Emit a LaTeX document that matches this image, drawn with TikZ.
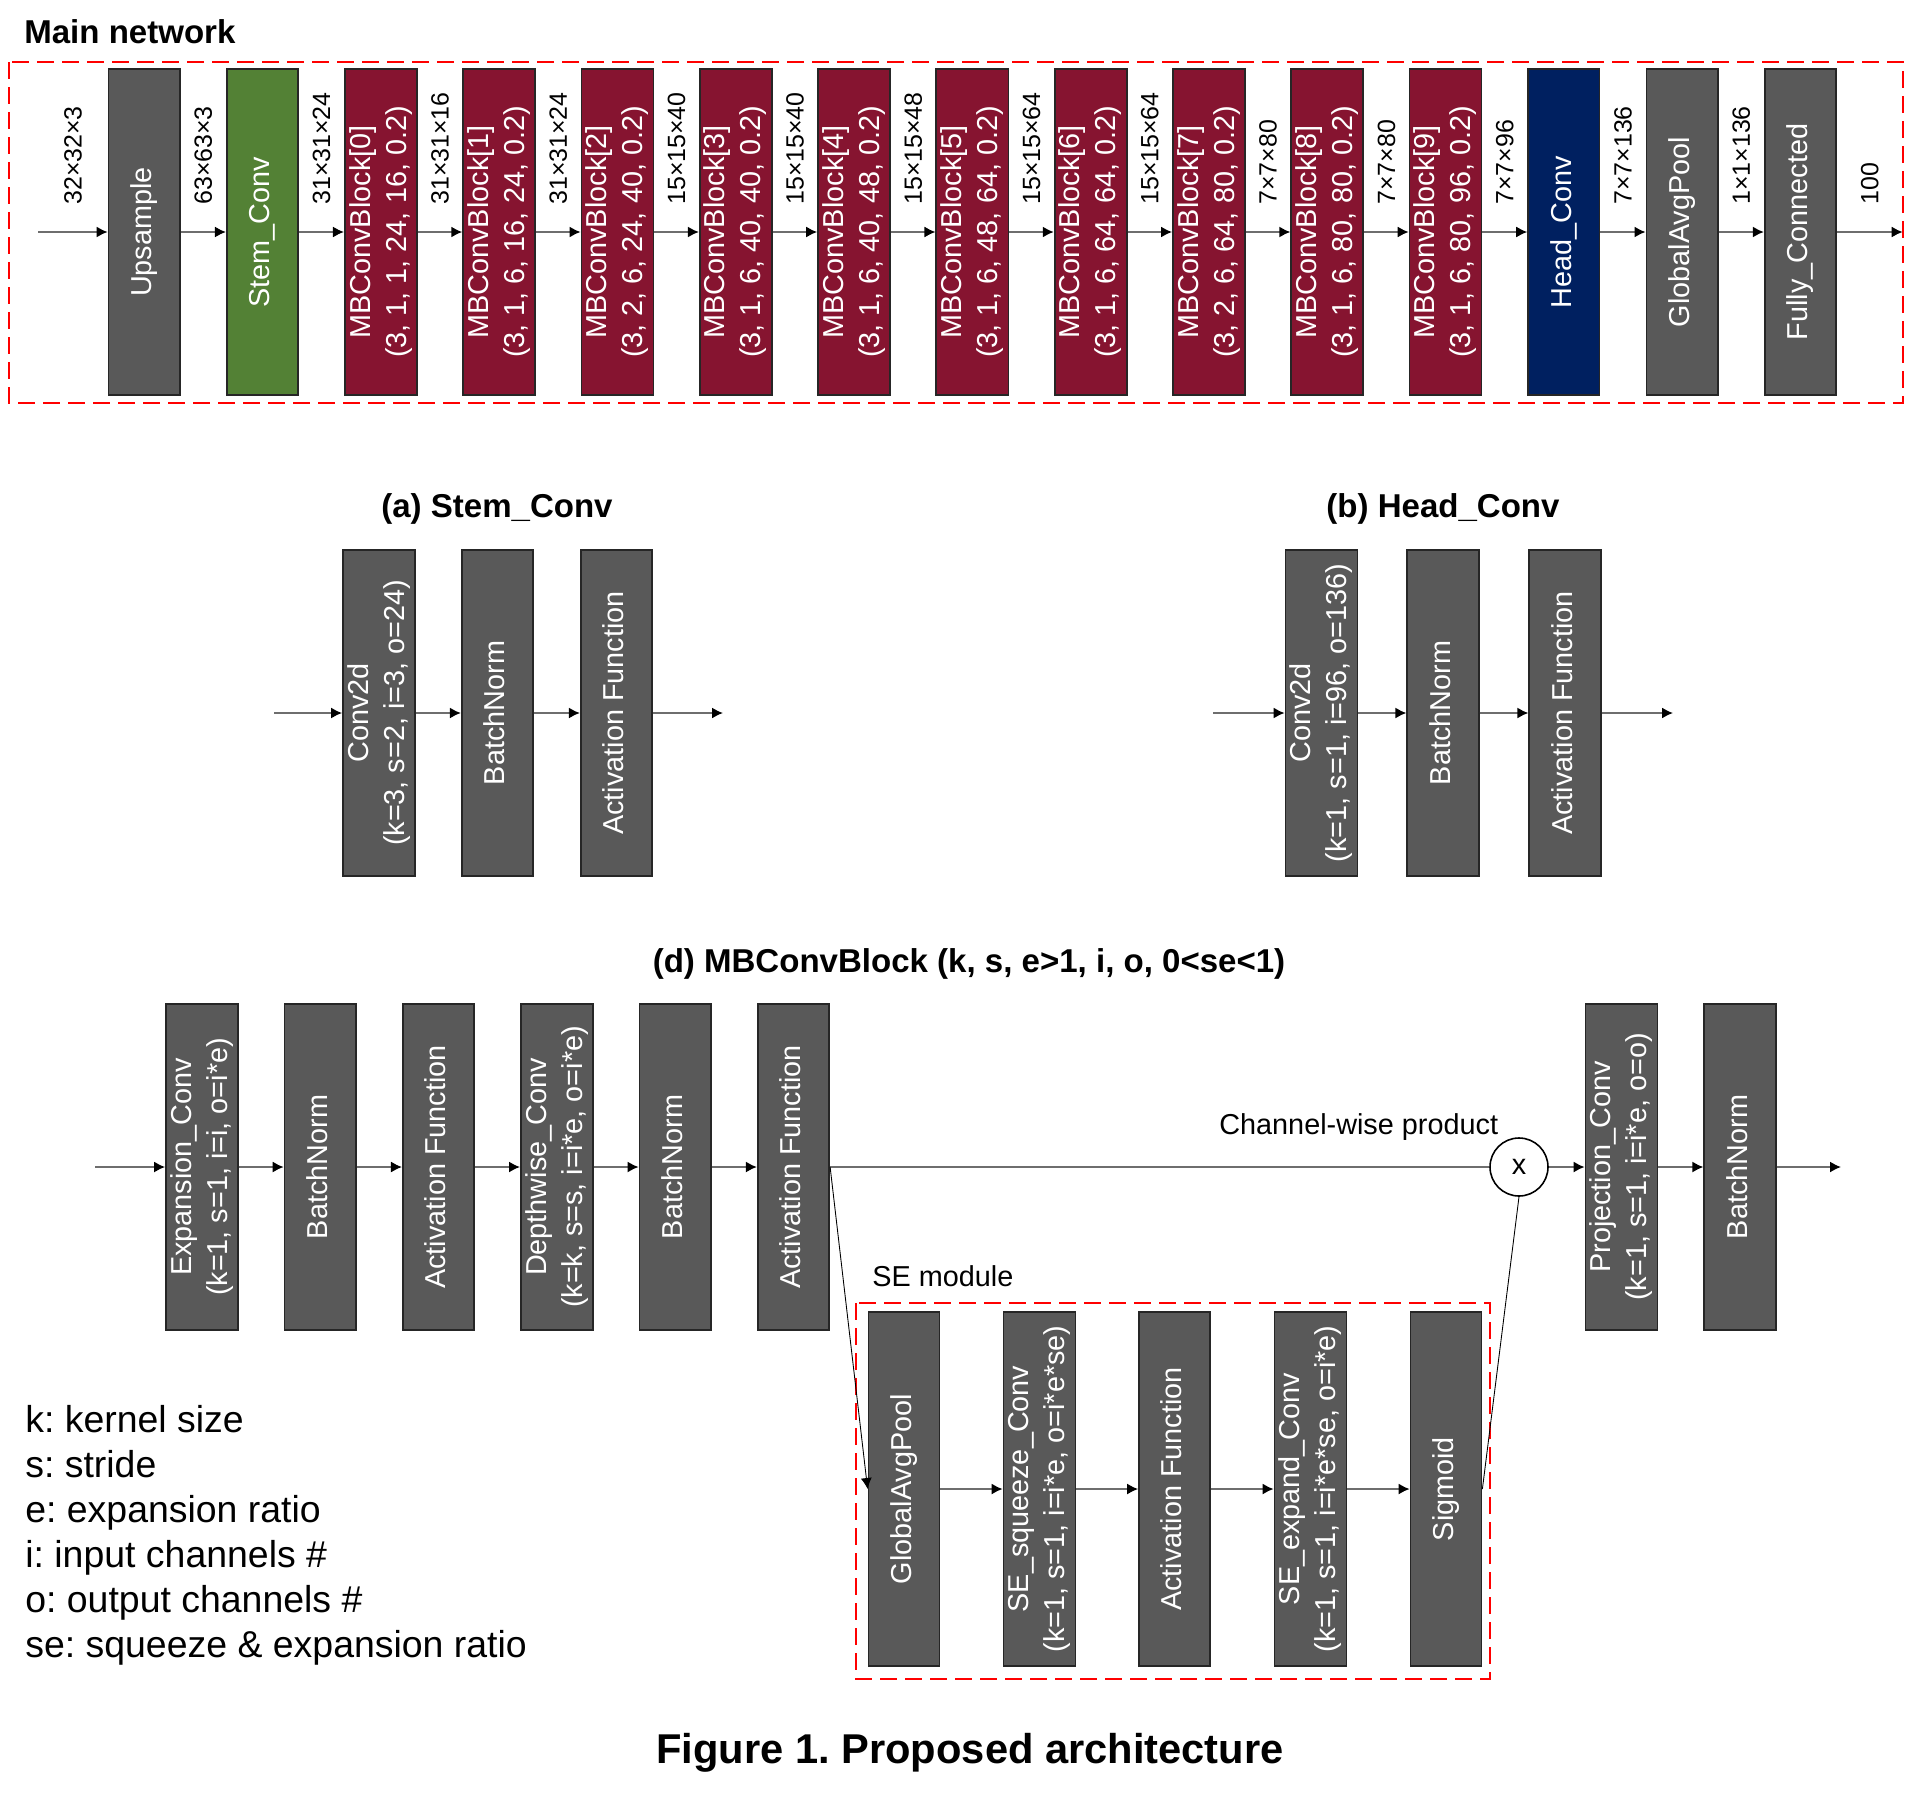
\documentclass[tikz,border=0pt]{standalone}
\usepackage{fontspec}
\setmainfont{Liberation Sans}
\usepackage{graphicx}
\usepackage{tikz}
\usetikzlibrary{arrows.meta,calc,positioning}
\frenchspacing
\definecolor{bgray}{RGB}{89,89,89}
\definecolor{bgreen}{RGB}{83,129,53}
\definecolor{bred}{RGB}{134,20,48}
\definecolor{bnavy}{RGB}{0,32,96}
\definecolor{dred}{RGB}{255,0,0}
\definecolor{lgray}{RGB}{110,110,110}
\newcommand{\blkfont}{\fontsize{16.4}{20.5}\selectfont}
\newcommand{\dimfont}{\fontsize{14.2}{17}\selectfont}
\newcommand{\headfont}{\fontsize{18.8}{22}\selectfont\bfseries}
\newcommand{\keyfont}{\fontsize{21.3}{25.6}\selectfont}
\newcommand{\figfont}{\fontsize{23.7}{28}\selectfont\bfseries}
\newcommand{\vlbl}[1]{\rotatebox{90}{\begin{tabular}{@{}c@{}}#1\end{tabular}}}

\begin{document}
\begin{tikzpicture}[x=0.2mm,y=-0.2mm,>={Latex[length=2.2mm,width=2.2mm]},
  blk/.style={draw=black!85,line width=1pt,fill=bgray,text=white,font=\blkfont,
    minimum width=14.3mm,minimum height=65.2mm,inner sep=0pt},
  seblk/.style={blk,minimum width=14.2mm,minimum height=70.8mm},
  conn/.style={draw=lgray,line width=0.9pt,-{Latex[length=2.2mm,width=2.2mm,color=black]}},
  slim/.style={draw=black,line width=0.5pt},
  grp/.style={draw=dred,line width=1.4pt,dash pattern=on 3.4mm off 1.6mm},
  dimlbl/.style={rotate=90,anchor=west,inner sep=0pt,font=\dimfont},
  ttl/.style={anchor=base,inner sep=0pt,font=\headfont},
  txt/.style={anchor=base west,inner sep=0pt,font=\blkfont}]

  \useasboundingbox (0,0) rectangle (1916,1799);

  % main network
  \node[ttl,anchor=base west] (mtitle) at (24,43) {Main network};
  \draw[grp] (9,62) rectangle (1903,403);
  \node[blk] (m0) at (144.25,232) {\vlbl{Upsample}};
  \node[blk,fill=bgreen] (m1) at (262.55,232) {\vlbl{Stem\_Conv}};
  \foreach \k/\p [count=\i from 2] in {0/{3, 1, 1, 24, 16, 0.2}, 1/{3, 1, 6, 16, 24, 0.2},
      2/{3, 2, 6, 24, 40, 0.2}, 3/{3, 1, 6, 40, 40, 0.2}, 4/{3, 1, 6, 40, 48, 0.2},
      5/{3, 1, 6, 48, 64, 0.2}, 6/{3, 1, 6, 64, 64, 0.2}, 7/{3, 2, 6, 64, 80, 0.2},
      8/{3, 1, 6, 80, 80, 0.2}, 9/{3, 1, 6, 80, 96, 0.2}}
    \node[blk,fill=bred] (m\i) at ({144.25+118.3*\i},232) {\vlbl{MBConvBlock[\k]\\(\p)}};
  \node[blk,fill=bnavy] (m12) at ({144.25+118.3*12},232) {\vlbl{Head\_Conv}};
  \node[blk] (m13) at ({144.25+118.3*13},232) {\vlbl{GlobalAvgPool}};
  \node[blk] (m14) at ({144.25+118.3*14},232) {\vlbl{Fully\_Connected}};
  \node[inner sep=0pt,minimum size=0pt] (m-1) at (38,232) {};
  \node[inner sep=0pt,minimum size=0pt] (m15) at (1903,232) {};
  \foreach \d [count=\j from 0] in {32×32×3, 63×63×3, 31×31×24, 31×31×16, 31×31×24,
      15×15×40, 15×15×40, 15×15×48, 15×15×64, 15×15×64, 7×7×80, 7×7×80, 7×7×96,
      7×7×136, 1×1×136, 100} {
    \pgfmathtruncatemacro{\p}{\j-1}
    \draw[conn] (m\p.east) -- (m\j.west);
    \node[dimlbl] (sz\j) at ($(m\p.east)!.5!(m\j.west)+(0,-27)$) {\d};
  }

  % (a) stem
  \node[ttl] (atitle) at (497,517) {(a) Stem\_Conv};
  \node[blk] (a1) at (379,713) {\vlbl{Conv2d\\(k=3, s=2, i=3, o=24)}};
  \node[blk] (a2) at (497.5,713) {\vlbl{BatchNorm}};
  \node[blk] (a3) at (616.5,713) {\vlbl{Activation Function}};
  \coordinate (a0) at (274,713);
  \coordinate (a4) at (723,713);
  \foreach \p/\q in {a0/a1,a1/a2,a2/a3,a3/a4}
    \draw[conn] (\p) -- (\q);

  % (b) head
  \node[ttl] (btitle) at (1443,517) {(b) Head\_Conv};
  \node[blk] (b1) at (1321.5,713) {\vlbl{Conv2d\\(k=1, s=1, i=96, o=136)}};
  \node[blk] (b2) at (1443,713) {\vlbl{BatchNorm}};
  \node[blk] (b3) at (1565,713) {\vlbl{Activation Function}};
  \coordinate (b0) at (1213,713);
  \coordinate (b4) at (1673,713);
  \foreach \p/\q in {b0/b1,b1/b2,b2/b3,b3/b4}
    \draw[conn] (\p) -- (\q);

  % (d) mbconv block
  \node[ttl] (dtitle) at (969,972) {(d) MBConvBlock (k, s, e>1, i, o, 0<se<1)};
  \node[blk] (d1) at (202,1167) {\vlbl{Expansion\_Conv\\(k=1, s=1, i=i, o=i*e)}};
  \node[blk] (d2) at (320.3,1167) {\vlbl{BatchNorm}};
  \node[blk] (d3) at (438.6,1167) {\vlbl{Activation Function}};
  \node[blk] (d4) at (556.9,1167) {\vlbl{Depthwise\_Conv\\(k=k, s=s, i=i*e, o=i*e)}};
  \node[blk] (d5) at (675.2,1167) {\vlbl{BatchNorm}};
  \node[blk] (d6) at (793.5,1167) {\vlbl{Activation Function}};
  \node[circle,draw=black,line width=0.9pt,fill=white,minimum size=11.6mm,inner sep=0pt,
    font=\blkfont] (prod) at (1519,1167) {x};
  \node[blk] (d7) at (1621.5,1167) {\vlbl{Projection\_Conv\\(k=1, s=1, i=i*e, o=o)}};
  \node[blk] (d8) at (1740,1167) {\vlbl{BatchNorm}};
  \coordinate (d0) at (95,1167);
  \coordinate (d9) at (1841,1167);
  \foreach \p/\q in {d0/d1,d1/d2,d2/d3,d3/d4,d4/d5,d5/d6,prod/d7,d7/d8,d8/d9}
    \draw[conn] (\p) -- (\q);
  \draw[conn,-] (d6) -- (prod);
  \node[txt] (cwp) at (1219,1134) {Channel-wise product};

  % se module
  \node[txt] (selbl) at (872,1286) {SE module};
  \draw[grp] (856,1303) rectangle (1490,1679);
  \node[seblk] (s1) at (904,1489) {\vlbl{GlobalAvgPool}};
  \node[seblk] (s2) at (1039.5,1489) {\vlbl{SE\_squeeze\_Conv\\(k=1, s=1, i=i*e, o=i*e*se)}};
  \node[seblk] (s3) at (1174.5,1489) {\vlbl{Activation Function}};
  \node[seblk] (s4) at (1310.5,1489) {\vlbl{SE\_expand\_Conv\\(k=1, s=1, i=i*e*se, o=i*e)}};
  \node[seblk] (s5) at (1446,1489) {\vlbl{Sigmoid}};
  \foreach \p/\q in {s1/s2,s2/s3,s3/s4,s4/s5}
    \draw[conn] (\p) -- (\q);
  \draw[slim,->] (d6.east) -- (s1.west);
  \draw[slim] (s5.east) -- (prod.south);

  % legend
  \foreach \t [count=\i from 0] in {k: kernel size, s: stride, e: expansion ratio,
      i: input channels \#, o: output channels \#, se: squeeze \& expansion ratio}
    \node[anchor=base west,inner sep=0pt,font=\keyfont] (key\i) at (25,{1432+45*\i}) {\t};

  \node[anchor=base,inner sep=0pt,font=\figfont] (cap) at (970,1763) {Figure 1. Proposed architecture};
\end{tikzpicture}
\end{document}
